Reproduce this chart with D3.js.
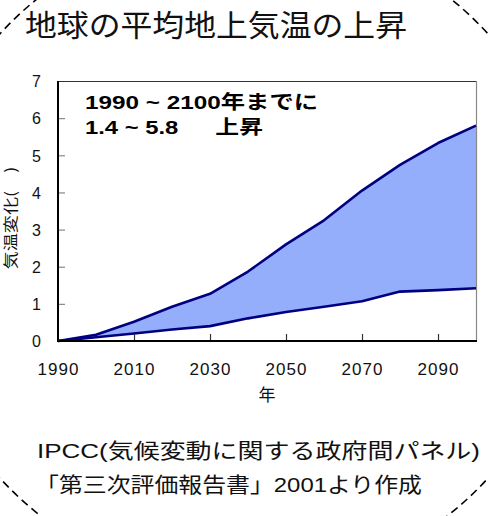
<!DOCTYPE html>
<html>
<head>
<meta charset="utf-8">
<script src="https://cdn.jsdelivr.net/npm/d3@7"></script>
<style>
  html, body { margin: 0; padding: 0; background: #fff; }
  svg { display: block; }
</style>
</head>
<body>
<svg id="chart" width="488" height="516"></svg>
<script>
// Projected global mean surface temperature rise (IPCC TAR range)
const years = [1990, 2000, 2010, 2020, 2030, 2040, 2050, 2060, 2070, 2080, 2090, 2100];
const upperRise = [0, 0.17, 0.52, 0.92, 1.27, 1.87, 2.6, 3.25, 4.05, 4.74, 5.33, 5.8];
const lowerRise = [0, 0.1, 0.2, 0.31, 0.40, 0.61, 0.78, 0.92, 1.07, 1.33, 1.37, 1.42];
const xTickYears = [1990, 2010, 2030, 2050, 2070, 2090];
const yTickValues = [0, 1, 2, 3, 4, 5, 6, 7];

const titleText = "地球の平均地上気温の上昇";
const noteLines = ["1990 ~ 2100年までに", "1.4 ~ 5.8　  上昇"];
const yLabel = "気温変化(　)";
const xLabel = "年";
const sourceLines = ["IPCC(気候変動に関する政府間パネル)", "「第三次評価報告書」2001より作成"];

const JP = "'Noto Sans CJK JP', sans-serif";
const MIXED = "'Liberation Sans', Arial, 'Noto Sans CJK JP', sans-serif";

const svg = d3.select("#chart");

// dashed circular frame behind everything
svg.append("circle")
  .attr("cx", 244).attr("cy", 256).attr("r", 330)
  .attr("fill", "none")
  .attr("stroke", "#000")
  .attr("stroke-width", 1.6)
  .attr("stroke-dasharray", "8 5");

// title
svg.append("text")
  .attr("font-family", JP)
  .attr("x", 25).attr("y", 36)
  .attr("font-size", 30)
  .attr("textLength", 382).attr("lengthAdjust", "spacingAndGlyphs")
  .attr("fill", "#111")
  .text(titleText);

const plot = { left: 58, right: 476, top: 81, bottom: 341 };

const x = d3.scaleLinear().domain([1990, 2100]).range([plot.left, plot.right]);
const y = d3.scaleLinear().domain([0, 7]).range([plot.bottom, plot.top]);

const rows = years.map((yr, i) => ({ yr, lo: lowerRise[i], hi: upperRise[i] }));

// shaded band between the low and high projections
svg.append("path")
  .datum(rows)
  .attr("fill", "#94aefc")
  .attr("d", d3.area().x(d => x(d.yr)).y0(d => y(d.lo)).y1(d => y(d.hi)));

// top and right frame
svg.append("line")
  .attr("x1", plot.left).attr("x2", plot.right)
  .attr("y1", plot.top + 0.5).attr("y2", plot.top + 0.5)
  .attr("stroke", "#333").attr("stroke-width", 1);
svg.append("line")
  .attr("x1", plot.right + 0.5).attr("x2", plot.right + 0.5)
  .attr("y1", plot.top).attr("y2", plot.bottom)
  .attr("stroke", "#888").attr("stroke-width", 1.2);

// boundary lines
const lineGen = key => d3.line().x(d => x(d.yr)).y(d => y(d[key]));
["hi", "lo"].forEach(k => {
  svg.append("path").datum(rows)
    .attr("fill", "none")
    .attr("stroke", "#000080")
    .attr("stroke-width", 2.6)
    .attr("stroke-linejoin", "round")
    .attr("d", lineGen(k));
});

// y axis: inner gray ticks, labels to the left
const yAxis = d3.axisLeft(y).tickValues(yTickValues).tickFormat(d3.format("d")).tickSize(0).tickPadding(0);
const gy = svg.append("g").attr("transform", `translate(${plot.left},0)`).call(yAxis);
gy.attr("font-family", MIXED).attr("font-size", 16);
gy.select(".domain").remove();
gy.selectAll(".tick text")
  .attr("x", -17)
  .attr("dy", "0.36em")
  .attr("fill", "#111");
gy.selectAll(".tick").filter(d => d > 0 && d < 7)
  .append("line")
  .attr("x1", 1).attr("x2", 7)
  .attr("stroke", "#888").attr("stroke-width", 1.2);

// x axis: inner ticks, labels below
const xAxis = d3.axisBottom(x).tickValues(xTickYears).tickFormat(d3.format("d")).tickSize(0).tickPadding(0);
const gx = svg.append("g").attr("transform", `translate(0,${plot.bottom})`).call(xAxis);
gx.attr("font-family", MIXED).attr("font-size", 17);
gx.select(".domain").remove();
gx.selectAll(".tick text")
  .attr("y", 34)
  .attr("dy", 0)
  .attr("letter-spacing", 1)
  .attr("fill", "#111");
gx.selectAll(".tick").filter(d => d > 1990)
  .append("line")
  .attr("y1", 0).attr("y2", -7)
  .attr("stroke", "#333").attr("stroke-width", 1.2);

// axis lines
svg.append("line")
  .attr("x1", plot.left).attr("x2", plot.left)
  .attr("y1", plot.top).attr("y2", plot.bottom + 1)
  .attr("stroke", "#000").attr("stroke-width", 2);
svg.append("line")
  .attr("x1", plot.left).attr("x2", plot.right + 1)
  .attr("y1", plot.bottom).attr("y2", plot.bottom)
  .attr("stroke", "#000").attr("stroke-width", 2);

// annotation inside the plot
svg.append("text")
  .attr("font-family", MIXED)
  .attr("x", 85).attr("y", 109)
  .attr("font-size", 19).attr("font-weight", "bold")
  .attr("textLength", 233).attr("lengthAdjust", "spacingAndGlyphs")
  .attr("fill", "#000")
  .attr("xml:space", "preserve")
  .style("white-space", "pre")
  .text(noteLines[0]);
svg.append("text")
  .attr("font-family", MIXED)
  .attr("x", 85).attr("y", 134)
  .attr("font-size", 19).attr("font-weight", "bold")
  .attr("textLength", 178).attr("lengthAdjust", "spacingAndGlyphs")
  .attr("fill", "#000")
  .style("white-space", "pre")
  .text(noteLines[1]);

// axis titles
svg.append("text")
  .attr("font-family", JP)
  .attr("transform", "translate(16,218) rotate(-90)")
  .attr("text-anchor", "middle")
  .attr("font-size", 15)
  .attr("textLength", 103).attr("lengthAdjust", "spacingAndGlyphs")
  .attr("fill", "#111")
  .text(yLabel);
svg.append("text")
  .attr("font-family", JP)
  .attr("x", (plot.left + plot.right) / 2).attr("y", 401)
  .attr("text-anchor", "middle")
  .attr("font-size", 17)
  .attr("fill", "#111")
  .text(xLabel);

// source note
svg.append("text")
  .attr("font-family", MIXED)
  .attr("x", 37).attr("y", 458)
  .attr("font-size", 21)
  .attr("textLength", 443).attr("lengthAdjust", "spacingAndGlyphs")
  .attr("fill", "#111")
  .text(sourceLines[0]);
svg.append("text")
  .attr("font-family", MIXED)
  .attr("x", 35).attr("y", 492)
  .attr("font-size", 21)
  .attr("textLength", 387).attr("lengthAdjust", "spacingAndGlyphs")
  .attr("fill", "#111")
  .text(sourceLines[1]);
</script>
</body>
</html>
